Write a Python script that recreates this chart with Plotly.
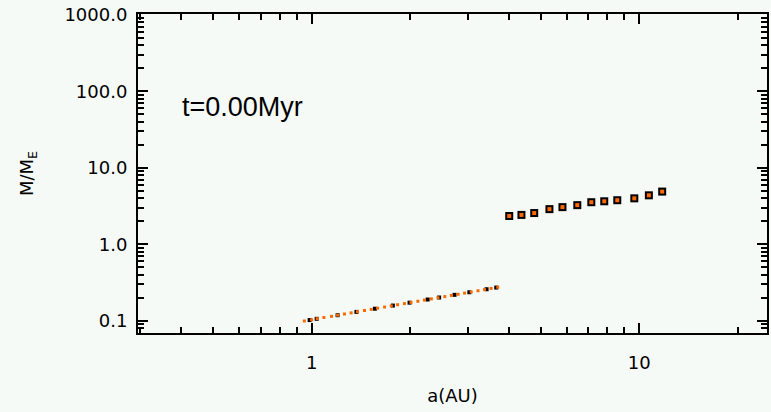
import plotly.graph_objects as go

# Inner (small) bodies: orange dots
inner_a = [0.95, 1.00, 1.04, 1.09, 1.15, 1.20, 1.26, 1.32, 1.38, 1.45, 1.52, 1.59, 1.67, 1.75, 1.83,
           1.92, 2.01, 2.11, 2.21, 2.32, 2.43, 2.55, 2.67, 2.80, 2.93, 3.07, 3.22, 3.37, 3.53, 3.70]
inner_m = [0.100, 0.1036, 0.1072, 0.1111, 0.1150, 0.1191, 0.1233, 0.1277, 0.1323, 0.1370, 0.1418,
           0.1469, 0.1521, 0.1575, 0.1631, 0.1689, 0.1749, 0.1811, 0.1876, 0.1943, 0.2012, 0.2083,
           0.2157, 0.2234, 0.2314, 0.2396, 0.2481, 0.2570, 0.2661, 0.2756]
# Inner bodies: black symbols
inner_blk_a = [0.986, 1.036, 1.20, 1.37, 1.56, 1.77, 1.99, 2.26, 2.45, 2.73, 3.03, 3.42, 3.66]
inner_blk_m = [0.1028, 0.1067, 0.119, 0.1314, 0.1447, 0.159, 0.1735, 0.1908, 0.2025, 0.2196,
               0.2373, 0.2597, 0.2732]
# Outer embryos
outer_a = [4.01, 4.37, 4.78, 5.32, 5.83, 6.47, 7.14, 7.82, 8.57, 9.66, 10.7, 11.75]
outer_m = [2.35, 2.43, 2.57, 2.89, 3.07, 3.26, 3.56, 3.66, 3.78, 4.00, 4.38, 4.90]

y_tickvals = [0.1, 1, 10, 100, 1000]
y_ticktext = ["0.1", "1.0", "10.0", "100.0", "1000.0"]
x_tickvals = [1, 10]
x_ticktext = ["1", "10"]

ORANGE = "#ff6a00"

fig = go.Figure()
fig.add_trace(go.Scatter(x=inner_blk_a, y=inner_blk_m, mode="markers",
                         marker=dict(symbol="square", size=4, color="black"), showlegend=False))
fig.add_trace(go.Scatter(x=inner_a, y=inner_m, mode="markers",
                         marker=dict(symbol="square", size=3, color=ORANGE), showlegend=False))
fig.add_trace(go.Scatter(x=outer_a, y=outer_m, mode="markers",
                         marker=dict(symbol="square", size=8, color="black"), showlegend=False))
fig.add_trace(go.Scatter(x=outer_a, y=outer_m, mode="markers",
                         marker=dict(symbol="square", size=4, color=ORANGE), showlegend=False))

fig.add_annotation(x=0.066, y=0.71, xref="paper", yref="paper", text="t=0.00Myr",
                   showarrow=False, xanchor="left", yanchor="middle",
                   font=dict(family="Liberation Sans", size=27, color="black"))

axis_common = dict(type="log", showgrid=False, zeroline=False, showline=True, linecolor="black",
                   linewidth=2, mirror="ticks", ticks="inside", tickcolor="black", tickwidth=2,
                   ticklen=10, tickfont=dict(family="DejaVu Sans", size=18, color="black"),
                   minor=dict(ticks="inside", ticklen=6, tickcolor="black", tickwidth=1.5,
                              dtick="D1", showgrid=False))

fig.update_xaxes(range=[-0.53, 1.39], tickmode="array", tickvals=x_tickvals, ticktext=x_ticktext,
                 ticklabelstandoff=12,
                 title=dict(text="a(AU)", font=dict(family="DejaVu Sans", size=18, color="black"),
                            standoff=18),
                 **axis_common)
fig.update_yaxes(range=[-1.157, 3.01], tickmode="array", tickvals=y_tickvals, ticktext=y_ticktext,
                 ticklabelstandoff=5,
                 title=dict(text="M/M<sub>E</sub>", font=dict(family="DejaVu Sans", size=18,
                                                                color="black"), standoff=26),
                 **axis_common)

fig.update_layout(width=771, height=412, margin=dict(l=138, r=2, t=14, b=79),
                  paper_bgcolor="#f6faf7", plot_bgcolor="#f6faf7", showlegend=False)

fig.write_html("out.html")
